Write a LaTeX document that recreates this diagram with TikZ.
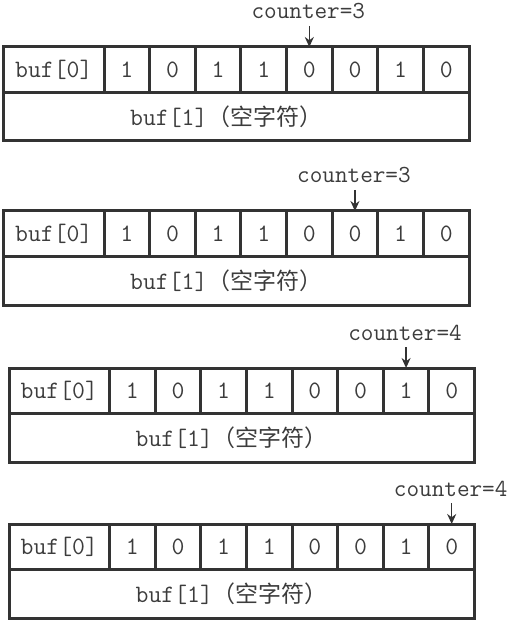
\documentclass[tikz,border=0pt]{standalone}
\usepackage{fontspec}
\newfontfamily\cjk{Noto Sans CJK SC}
\usetikzlibrary{arrows.meta,calc}
\definecolor{linec}{HTML}{333333}
\definecolor{textc}{HTML}{3C3C3C}
\tikzset{
  cellbox/.style={draw=linec, line width=3pt, inner sep=0pt, outer sep=0pt,
    minimum height=45.5pt, text=textc, font=\ttfamily\fontsize{25}{28}\selectfont,
    anchor=north west},
  widecell/.style={cellbox, minimum width=100.5pt},
  bitcell/.style={cellbox, minimum width=45.625pt},
  lowbox/.style={cellbox, minimum width=465.5pt, minimum height=48.5pt},
  lbl/.style={text=textc, font=\ttfamily\fontsize{24.5}{28}\selectfont, inner sep=0pt},
  ptr/.style={draw=linec, line width=1.5pt, -{Stealth[length=10pt,width=9pt]}}
}
\newcommand\bufrow[5]{%
  \node[widecell] (#1c0) at ({#2+3.5}, {#3}) {buf[0]};
  \foreach \b [count=\i] in {1,0,1,1,0,0,1,0} {
    \node[bitcell] (#1c\i) at ({#2+104+(\i-1)*45.625}, {#3}) {\b};
  }
  \node[lowbox] (#1low) at ({#2+3.5}, {#3+45.5}) {buf[1]{\cjk\fontsize{23}{26}\selectfont （空字符）}\hspace*{20pt}};
  \node[lbl] (#1lab) at ($(#1c#4.north)+(-1,-35.5)$) {#5};
  \coordinate (#1tail) at ($(#1c#4.north)+(0,-21)$);
  \draw[ptr] (#1tail) -- (#1c#4.north);
}
\begin{document}
\begin{tikzpicture}[x=1pt,y=-1pt]
  \useasboundingbox (0,0) rectangle (513,620);
  \bufrow{a}{0}{47}{5}{counter=3}
  \bufrow{b}{0}{211}{6}{counter=3}
  \bufrow{c}{5.5}{368}{7}{counter=4}
  \bufrow{d}{5.5}{524}{8}{counter=4}
\end{tikzpicture}
\end{document}
